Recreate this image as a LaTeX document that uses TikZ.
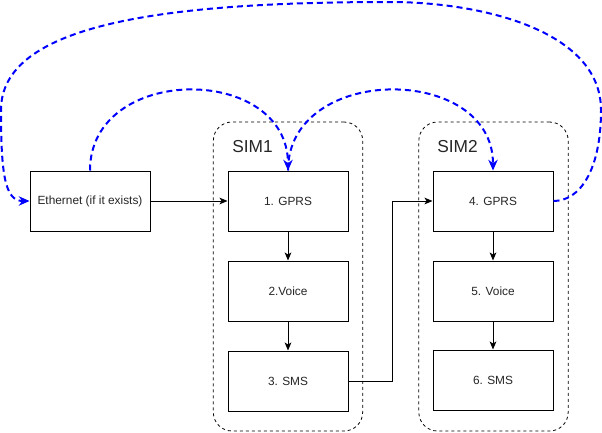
\documentclass[tikz,border=0pt]{standalone}
\usepackage{fontspec}
\setmainfont{Liberation Sans}
\usetikzlibrary{arrows.meta}

\begin{document}
\begin{tikzpicture}[x=0.75pt, y=-0.75pt,
  box/.style={rectangle, draw, line width=0.75pt, fill=white, minimum width=90pt, minimum height=45pt, inner sep=0pt, font=\fontsize{8.9}{10}\selectfont, text=black!85},
  simbox/.style={rectangle, draw, dashed, dash pattern=on 2.25pt off 2.25pt, line width=0.6pt, rounded corners=14pt, minimum width=112pt, minimum height=231.75pt, inner sep=0pt},
  simlabel/.style={anchor=west, inner sep=0pt, font=\fontsize{13}{15}\selectfont, text=black!85},
  flow/.style={line width=0.75pt, -{Stealth[length=6pt, width=5pt, inset=1.5pt]}},
  hop/.style={blue, line width=1.5pt, dash pattern=on 4.5pt off 3pt, -{Stealth[length=8pt, width=7pt, inset=2.5pt]}}]
\useasboundingbox (0,0) rectangle (602,432);
\node[simbox] (C1) at (288, 276.5) {};
\node[simbox] (C2) at (493.5, 276.5) {};
\node[simlabel] (L1) at (232, 147) {SIM1};
\node[simlabel] (L2) at (437, 147) {SIM2};
\node[box] (E) at (90, 201) {Ethernet (if it exists)};
\node[box] (G1) at (288, 201) {1. GPRS};
\node[box] (V2) at (288, 291) {2.Voice};
\node[box] (S3) at (288, 381) {3. SMS};
\node[box] (G4) at (493, 201) {4. GPRS};
\node[box] (V5) at (493, 291) {5. Voice};
\node[box] (S6) at (493, 380) {6. SMS};
\draw[flow] (E) -- (G1);
\draw[flow] (G1) -- (V2);
\draw[flow] (V2) -- (S3);
\draw[flow] (S3.east) -- ++(44,0) |- (G4.west);
\draw[flow] (G4) -- (V5);
\draw[flow] (V5) -- (S6);
\draw[hop] (E.north) .. controls +(0,-107) and +(0,-107) .. (G1.north);
\draw[hop] (G1.north) .. controls +(0,-107) and +(0,-107) .. (G4.north);
\draw[hop] (G4.east) .. controls (580,201) and (601,170) .. (601,110)
  .. controls (601,30) and (480,2) .. (390,2)
  .. controls (160,2) and (1,25) .. (1,110)
  .. controls (1,175) and (5,201) .. (E.west);
\end{tikzpicture}
\end{document}
